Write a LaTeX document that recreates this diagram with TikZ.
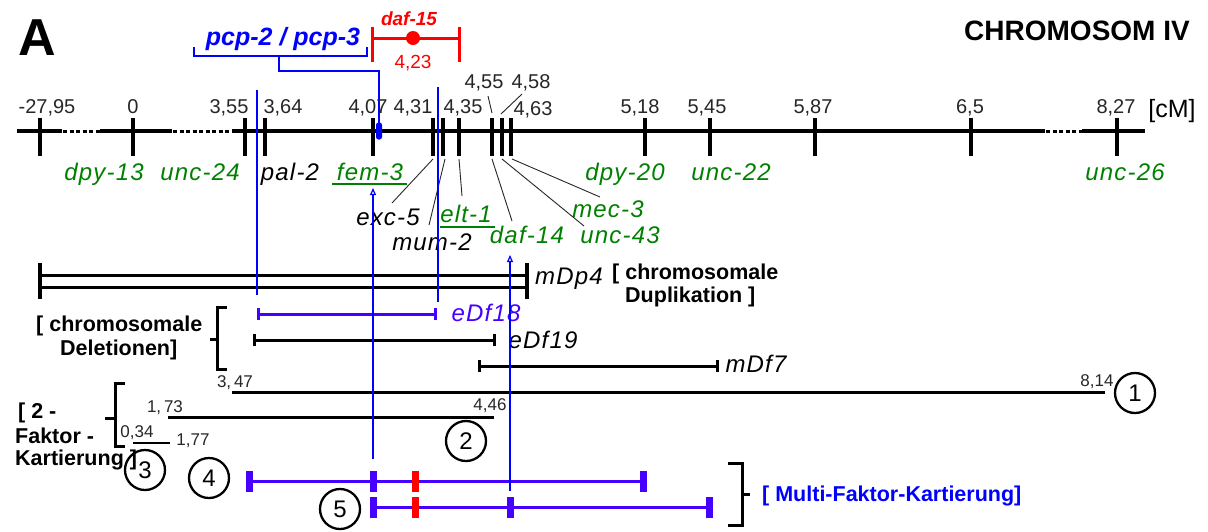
\documentclass[tikz,border=0pt]{standalone}
\usepackage{fontspec}
\setmainfont{Liberation Sans}
\newfontfamily\genefont[LetterSpace=5]{Liberation Sans}
\usetikzlibrary{arrows.meta,positioning,calc}

\definecolor{genegreen}{RGB}{0,128,0}
\definecolor{pcpblue}{RGB}{0,0,255}
\definecolor{mfblue}{RGB}{70,0,255}
\definecolor{mapred}{RGB}{255,0,0}

\begin{document}
\begin{tikzpicture}[
        x=1pt, y=-1pt,
        % Grundstile
        axis_ln/.style={line width=3.6pt},
        tick_ln/.style={line width=3.6pt},
        ptr_ln/.style={line width=0.9pt, black!85},
        blue_ln/.style={line width=1.2pt, draw=pcpblue},
        up_arrow/.style={blue_ln, -{Triangle[open, length=7pt, width=6pt]}},
        num_lbl/.style={font=\fontsize{20}{20}\selectfont, text=black!85, inner sep=0pt, anchor=base},
        small_num/.style={font=\fontsize{17}{17}\selectfont, text=black!85, inner sep=0pt, anchor=base},
        gene_g/.style={font=\genefont\fontsize{24}{24}\selectfont\itshape, text=genegreen, inner sep=0pt, anchor=base},
        gene_k/.style={gene_g, text=black},
        grp_lbl/.style={font=\fontsize{21.5}{21.5}\selectfont\bfseries, inner sep=0pt, anchor=base west},
        del_bar/.style={line width=3pt, {Bar[width=12pt]}-{Bar[width=12pt]}},
        bracket_ln/.style={line width=3pt},
        circ_num/.style={circle, draw, line width=2.3pt, minimum size=40pt, inner sep=0pt, font=\fontsize{24}{24}\selectfont},
        mf_line/.style={line width=3pt, draw=mfblue},
        cap_b/.style={fill=mfblue, minimum width=7pt, minimum height=21pt, inner sep=0pt},
        cap_r/.style={cap_b, fill=mapred}
    ]
    \useasboundingbox (0,0) rectangle (1208,531);

    % --- Titel ---
    \node[font=\fontsize{52}{52}\selectfont\bfseries, inner sep=0pt, anchor=base] (panel) at (37,55) {A};
    \node[font=\fontsize{28}{28}\selectfont\bfseries, inner sep=0pt, anchor=base] (chrom) at (1077,40) {CHROMOSOM IV};

    % --- pcp-2 / pcp-3 und daf-15 oben ---
    \node[font=\fontsize{25}{25}\selectfont\bfseries\itshape, text=pcpblue, inner sep=0pt, anchor=base] (pcp) at (283,45) {pcp-2 / pcp-3};
    \draw[blue_ln] (194,47) |- (367,56) -- (367,47);
    \coordinate (pcp_mid) at (279,56);
    \coordinate (pcp_pt) at (379,131);

    \node[font=\fontsize{19}{19}\selectfont\bfseries\itshape, text=mapred, inner sep=0pt, anchor=base] (daf15) at (409,25) {daf-15};
    \coordinate (daf_l) at (372,38);
    \coordinate (daf_r) at (459,38);
    \draw[line width=3pt, mapred] (daf_l) -- (daf_r);
    \draw[line width=3pt, mapred] (372,27) -- (372,62) (459,27) -- (459,62);
    \node[circle, fill=mapred, minimum size=14pt, inner sep=0pt] (daf_dot) at (413,38) {};
    \node[font=\fontsize{19}{19}\selectfont, text=mapred, inner sep=0pt, anchor=base] (daf_pos) at (413,68) {4,23};

    % --- Chromosomenachse ---
    \draw[axis_ln] (17,131) -- (62,131) (100,131) -- (172,131) (232,131) -- (1045,131) (1082,131) -- (1145,131);
    \draw[axis_ln, line width=3pt, dash pattern=on 4pt off 2.5pt] (63,131) -- (100,131) (173,131) -- (232,131) (1046,131) -- (1082,131);
    \draw[tick_ln] (40,118) -- (40,156) (133,118) -- (133,156) (245,118) -- (245,156) (265,118) -- (265,156);
    \draw[tick_ln] (373,118) -- (373,156) (433,118) -- (433,156) (443,118) -- (443,156) (459,118) -- (459,156);
    \draw[tick_ln] (492,118) -- (492,156) (502,118) -- (502,156) (511,118) -- (511,156);
    \draw[tick_ln] (645,118) -- (645,156) (710,118) -- (710,156) (815,118) -- (815,156) (971,118) -- (971,156) (1117,118) -- (1117,156);
    \draw[blue_ln] (pcp_mid) -- ++(0,15) -| ([yshift=8pt]pcp_pt);
    \node[fill=pcpblue, rounded corners=2.5pt, minimum width=6pt, minimum height=17pt, inner sep=0pt] (pcpmark) at (pcp_pt) {};

    % Positionen [cM]
    \node[num_lbl] (p2795) at (47,113) {-27,95};
    \node[num_lbl] (p0) at (133,113) {0};
    \node[num_lbl] (p355) at (229,113) {3,55};
    \node[num_lbl] (p364) at (283,113) {3,64};
    \node[num_lbl] (p407) at (368,113) {4,07};
    \node[num_lbl] (p431) at (413,113) {4,31};
    \node[num_lbl] (p435) at (463,113) {4,35};
    \node[num_lbl] (p455) at (484,88) {4,55};
    \node[num_lbl] (p458) at (531,88) {4,58};
    \node[num_lbl] (p463) at (533,115) {4,63};
    \node[num_lbl] (p518) at (640,113) {5,18};
    \node[num_lbl] (p545) at (707,113) {5,45};
    \node[num_lbl] (p587) at (813,113) {5,87};
    \node[num_lbl] (p65) at (970,113) {6,5};
    \node[num_lbl] (p827) at (1116,113) {8,27};
    \node[num_lbl, font=\fontsize{25}{25}\selectfont, text=black] (unit) at (1172,117) {[cM]};
    \coordinate (s455a) at (488,96);
    \coordinate (s455b) at (492,113);
    \coordinate (s458a) at (522,94);
    \coordinate (s458b) at (501,114);
    \draw[ptr_ln] (s455a) -- (s455b);
    \draw[ptr_ln] (s458a) -- (s458b);

    % --- Gene ---
    \node[gene_g] (dpy13) at (104,180) {dpy-13};
    \node[gene_g] (unc24) at (200,180) {unc-24};
    \node[gene_k] (pal2) at (290,180) {pal-2};
    \node[gene_g] (fem3) at (370,180) {fem-3};
    \node[gene_g] (dpy20) at (625,180) {dpy-20};
    \node[gene_g] (unc22) at (731,180) {unc-22};
    \node[gene_g] (unc26) at (1125,180) {unc-26};
    \node[gene_k] (exc5) at (388,225) {exc-5};
    \node[gene_g] (elt1) at (466,222) {elt-1};
    \node[gene_g] (mec3) at (608,217) {mec-3};
    \node[gene_k] (mum2) at (432,250) {mum-2};
    \node[gene_g] (daf14) at (527,243) {daf-14};
    \node[gene_g] (unc43) at (620,243) {unc-43};
    \draw[line width=2.5pt, genegreen] (332,184) -- (407,184);
    \draw[line width=2.5pt, genegreen] (440,227) -- (495,227);

    % Zeigerlinien Tick -> Gen
    \coordinate (k431a) at (433,159);
    \coordinate (k431b) at (445,159);
    \coordinate (k435) at (459,159);
    \coordinate (k455) at (492,159);
    \coordinate (k458) at (502,159);
    \coordinate (k463) at (512,159);
    \coordinate (e_exc) at (392,203);
    \coordinate (e_mum) at (429,225);
    \coordinate (e_elt) at (462,196);
    \coordinate (e_daf) at (512,221);
    \coordinate (e_unc) at (584,226);
    \coordinate (e_mec) at (600,197);
    \draw[ptr_ln] (k431a) -- (e_exc);
    \draw[ptr_ln] (k431b) -- (e_mum);
    \draw[ptr_ln] (k435) -- (e_elt);
    \draw[ptr_ln] (k455) -- (e_daf);
    \draw[ptr_ln] (k458) -- (e_unc);
    \draw[ptr_ln] (k463) -- (e_mec);

    % --- Duplikation mDp4 ---
    \draw[line width=3pt, double distance=9pt] (40,281) -- (527,281);
    \draw[line width=3.5pt] (40,263) -- (40,299) (527,263) -- (527,299);
    \node[gene_k] (mdp4) at (569,284) {mDp4};
    \node[grp_lbl] (dup1) at (612,279) {[ chromosomale};
    \node[grp_lbl] (dup2) at (625,302) {Duplikation ]};

    % --- Deletionen ---
    \coordinate (df18_l) at (257,314);
    \coordinate (df18_r) at (437,314);
    \coordinate (df19_l) at (253,340);
    \coordinate (df19_r) at (496,340);
    \coordinate (df7_l) at (478,366);
    \coordinate (df7_r) at (719,366);
    \draw[del_bar, mfblue] (df18_l) -- (df18_r);
    \draw[del_bar] (df19_l) -- (df19_r);
    \draw[del_bar] (df7_l) -- (df7_r);
    \node[gene_g, text=mfblue] (edf18) at (486,321) {eDf18};
    \node[gene_k] (edf19) at (543,348) {eDf19};
    \node[gene_k] (mdf7) at (756,372) {mDf7};
    \draw[bracket_ln] (227,307) -- (217,307) -- (217,369) -- (227,369) (217,339) -- (210,339);
    \node[grp_lbl] (del1) at (36,331) {[ chromosomale};
    \node[grp_lbl] (del2) at (60,355) {Deletionen]};

    % --- 2-Faktor-Kartierung ---
    \draw[line width=3pt] (232,392) -- (1105,392);
    \draw[line width=3pt] (168,417) -- (494,417);
    \draw[line width=2.2pt] (133,443) -- (170,443);
    \node[small_num] (a347) at (235,387) {3,\,47};
    \node[small_num] (a814) at (1097,386) {8,14};
    \node[small_num] (a173) at (165,412) {1,\,73};
    \node[small_num] (a446) at (490,410) {4,46};
    \node[small_num] (a034) at (137,437) {0,34};
    \node[small_num] (a177) at (193,445) {1,77};
    \node[circ_num] (c1) at (1135,393) {1};
    \node[circ_num] (c2) at (466,441) {2};
    \node[circ_num] (c3) at (145,470) {3};
    \node[circ_num] (c4) at (209,478) {4};
    \node[circ_num] (c5) at (340,509) {5};
    \draw[bracket_ln] (125,383) -- (115,383) -- (115,446) -- (125,446) (115,418) -- (105,418);
    \node[grp_lbl] (tf1) at (18,418) {[ 2 -};
    \node[grp_lbl] (tf2) at (15,443) {Faktor -};
    \node[grp_lbl] (tf3) at (15,465) {Kartierung ]};

    % --- Multi-Faktor-Kartierung ---
    \coordinate (m4_l) at (249,481);
    \coordinate (m4_r) at (643,481);
    \coordinate (m5_l) at (373,507);
    \coordinate (m5_r) at (709,507);
    \draw[mf_line] (m4_l) -- (m4_r);
    \draw[mf_line] (m5_l) -- (m5_r);
    \node[cap_b] (m4a) at (m4_l) {};
    \node[cap_b] (m4b) at (373,481) {};
    \node[cap_r] (m4c) at (415,481) {};
    \node[cap_b] (m4d) at (m4_r) {};
    \node[cap_b] (m5a) at (m5_l) {};
    \node[cap_r] (m5b) at (415,507) {};
    \node[cap_b] (m5c) at (510,507) {};
    \node[cap_b] (m5d) at (m5_r) {};
    \draw[bracket_ln] (728,463) -- (742,463) -- (742,525) -- (728,525) (742,494) -- (750,494);
    \node[grp_lbl, text=pcpblue] (mf) at (762,501) {[ Multi-Faktor-Kartierung]};

    % --- blaue Bezugslinien ---
    \coordinate (fem_tip) at (373,188);
    \coordinate (daf_tip) at (510,255);
    \coordinate (top_l) at (257,90);
    \coordinate (top_r) at (438,87);
    \draw[blue_ln] (top_l) -- ([yshift=19pt]df18_l);
    \draw[blue_ln] (top_r) -- ([xshift=1pt, yshift=12pt]df18_r);
    \draw[up_arrow, shorten <=11pt] (m4b.north) -- (fem_tip);
    \draw[up_arrow, shorten <=5pt] (m5c.north) -- (daf_tip);

\end{tikzpicture}
\end{document}
